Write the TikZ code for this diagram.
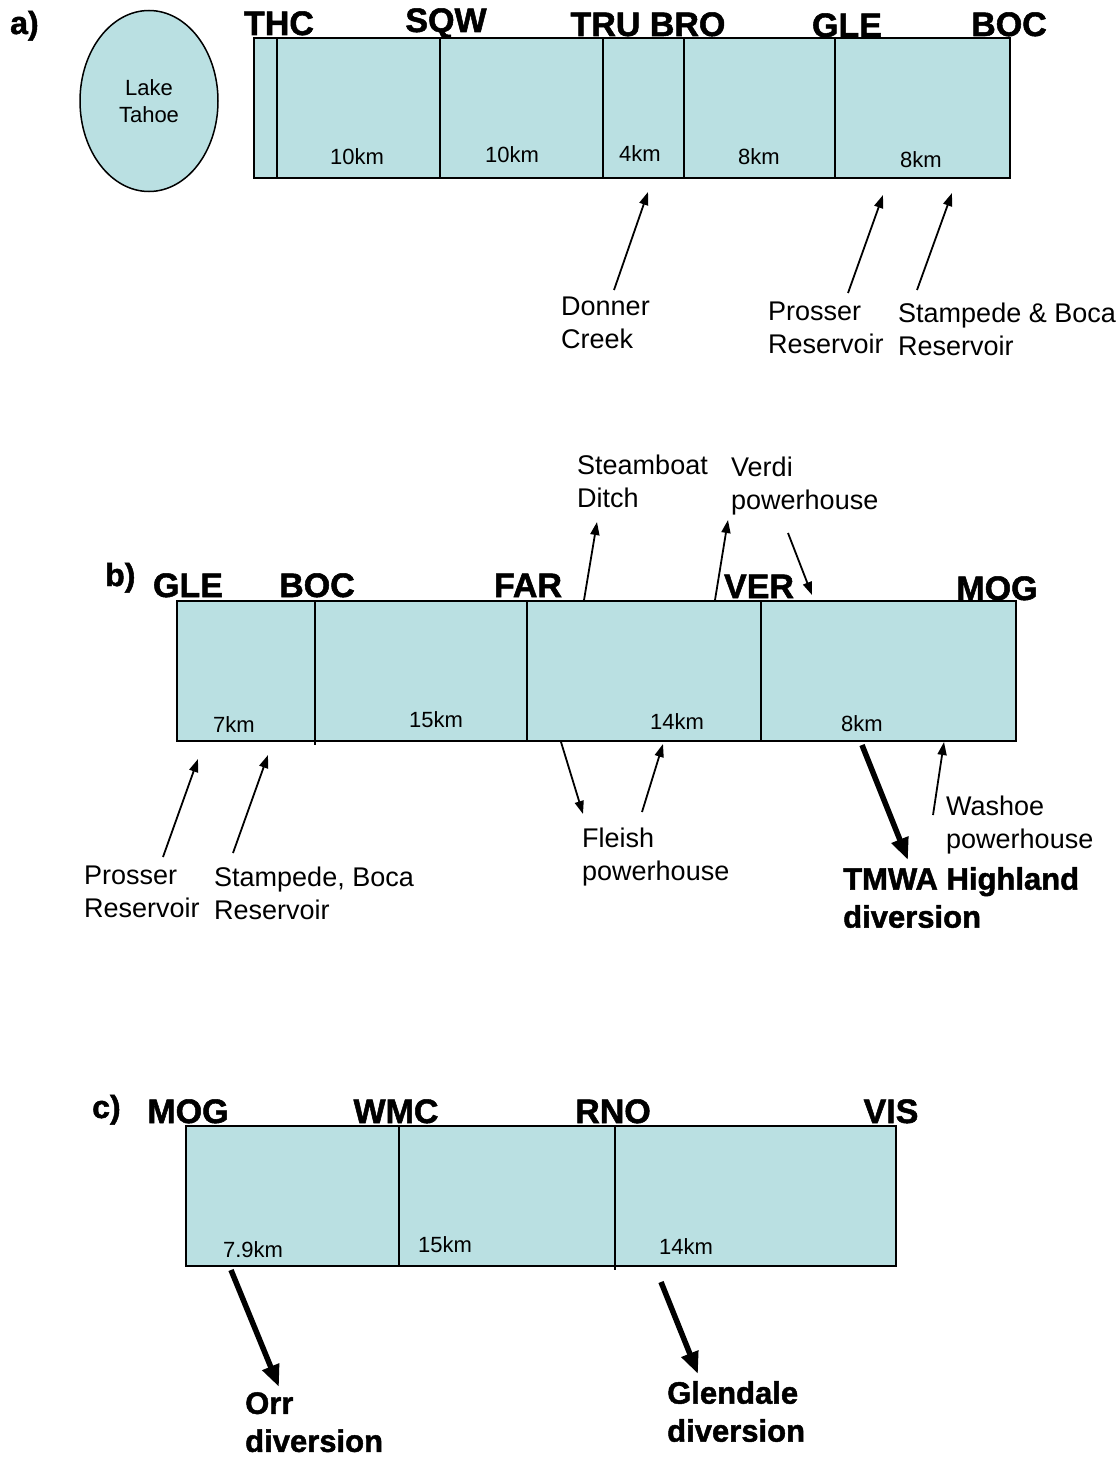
\documentclass[tikz,border=0pt]{standalone}
\usepackage{fontspec}
\setmainfont{Liberation Sans}
\newfontfamily\heavyfont{Liberation Sans}[BoldFeatures={FakeBold=1.5}]
\usetikzlibrary{arrows.meta,shapes.geometric}
\definecolor{rfill}{RGB}{186,224,226}
\begin{document}
\begin{tikzpicture}[x=1pt,y=-1pt,
  reach/.style={fill=rfill, draw=black, line width=2pt},
  divider/.style={draw=black, line width=1.3pt},
  stn/.style={font=\heavyfont\fontsize{34}{38}\selectfont\bfseries, anchor=base, inner sep=0},
  panel/.style={font=\heavyfont\fontsize{32}{38}\selectfont\bfseries, anchor=base west, inner sep=0},
  km/.style={font=\fontsize{22}{26}\selectfont, inner sep=0},
  note/.style={font=\fontsize{27}{32.5}\selectfont, align=left, anchor=north west, inner sep=0},
  bnote/.style={font=\heavyfont\fontsize{31}{38}\selectfont\bfseries, align=left, anchor=north west, inner sep=0},
  flow/.style={-{Triangle[length=13pt,width=9pt]}, line width=1.8pt},
  bigflow/.style={-{Triangle[length=22pt,width=17pt]}, line width=5.5pt},
  lake/.style={ellipse, fill=rfill, draw=black, line width=1.5pt, minimum width=138pt, minimum height=181pt, inner sep=0, align=center, font=\fontsize{22}{27}\selectfont}
]
\useasboundingbox (0,0) rectangle (1118,1458);
\fill[white] (0,0) rectangle (1118,1458);

% ---------------- panel a ----------------
\node[panel] (pa) at (10,34) {a)};
\node[lake] (tahoe) at (149,101) {Lake\\Tahoe};
\draw[reach] (254,38) rectangle (1010,178);
\foreach \xx in {277,440,603,684,835} \draw[divider] (\xx,38) -- (\xx,178);
\node[stn] (thc) at (279,35) {THC};
\node[stn] (sqw) at (446,32) {SQW};
\node[stn] (trubro) at (648,36) {TRU BRO};
\node[stn] (glea) at (847,37) {GLE};
\node[stn] (boca) at (1009,36) {BOC};
\node[km] (ka1) at (357,157) {10km};
\node[km] (ka2) at (512,155) {10km};
\node[km] (ka3) at (640,154) {4km};
\node[km] (ka4) at (759,157) {8km};
\node[km] (ka5) at (921,160) {8km};
\node[note] (donner) at (561,297) {Donner\\Creek};
\node[note] (prossera) at (768,302) {Prosser\\Reservoir};
\node[note] (stampa) at (898,303) {Stampede \& Boca\\Reservoir};
\coordinate (dnS) at (614,290); \coordinate (dnE) at (648,192);
\coordinate (prS) at (848,293); \coordinate (prE) at (883,195);
\coordinate (stS) at (917,290); \coordinate (stE) at (952,193);
\draw[flow] (dnS) -- (dnE);
\draw[flow] (prS) -- (prE);
\draw[flow] (stS) -- (stE);

% ---------------- panel b ----------------
\node[panel] (pb) at (105,586) {b)};
\draw[reach] (177,601) rectangle (1016,741);
\draw[divider] (315,601) -- (315,745);
\draw[divider] (527,601) -- (527,741);
\draw[divider] (761,601) -- (761,741);
\node[stn] (gleb) at (188,597) {GLE};
\node[stn] (bocb) at (317,597) {BOC};
\node[stn] (far) at (528,597) {FAR};
\node[stn] (ver) at (759,598) {VER};
\node[stn] (mogb) at (997,600) {MOG};
\node[km] (kb1) at (234,725) {7km};
\node[km] (kb2) at (436,720) {15km};
\node[km] (kb3) at (677,722) {14km};
\node[km] (kb4) at (862,724) {8km};
\node[note] (steam) at (577,455) {Steamboat\\Ditch};
\node[note] (verdi) at (731,457) {Verdi\\powerhouse};
\node[note] (prosserb) at (84,866) {Prosser\\Reservoir};
\node[note] (stampb) at (214,867) {Stampede, Boca\\Reservoir};
\node[note] (fleish) at (582,828) {Fleish\\powerhouse};
\node[note] (washoe) at (946,796) {Washoe\\powerhouse};
\node[bnote] (tmwa) at (843,867) {TMWA Highland\\diversion};
\coordinate (sdS) at (584,600); \coordinate (sdE) at (597,522);
\coordinate (vuS) at (715,600); \coordinate (vuE) at (728,520);
\coordinate (vdS) at (788,533); \coordinate (vdE) at (812,595);
\coordinate (pbS) at (163,857); \coordinate (pbE) at (198,759);
\coordinate (sbS) at (233,853); \coordinate (sbE) at (268,755);
\coordinate (fdS) at (561,742); \coordinate (fdE) at (583,814);
\coordinate (fuS) at (642,812); \coordinate (fuE) at (663,744);
\coordinate (wuS) at (933,815); \coordinate (wuE) at (944,742);
\coordinate (tmS) at (862,745); \coordinate (tmE) at (908,860);
\draw[flow] (sdS) -- (sdE);
\draw[flow] (vuS) -- (vuE);
\draw[flow] (vdS) -- (vdE);
\draw[flow] (pbS) -- (pbE);
\draw[flow] (sbS) -- (sbE);
\draw[flow] (fdS) -- (fdE);
\draw[flow] (fuS) -- (fuE);
\draw[flow] (wuS) -- (wuE);
\draw[bigflow] (tmS) -- (tmE);

% ---------------- panel c ----------------
\node[panel] (pc) at (92,1118) {c)};
\draw[reach] (186,1126) rectangle (896,1266);
\draw[divider] (399,1126) -- (399,1266);
\draw[divider] (615,1126) -- (615,1270);
\node[stn] (mogc) at (188,1123) {MOG};
\node[stn] (wmc) at (396,1123) {WMC};
\node[stn] (rno) at (613,1123) {RNO};
\node[stn] (vis) at (891,1123) {VIS};
\node[km] (kc1) at (253,1250) {7.9km};
\node[km] (kc2) at (445,1245) {15km};
\node[km] (kc3) at (686,1247) {14km};
\node[bnote] (orr) at (245,1392) {Orr\\diversion};
\node[bnote] (glendale) at (667,1381) {Glendale\\diversion};
\coordinate (orS) at (231,1270); \coordinate (orE) at (279,1387);
\coordinate (glS) at (661,1282); \coordinate (glE) at (698,1374);
\draw[bigflow] (orS) -- (orE);
\draw[bigflow] (glS) -- (glE);
\end{tikzpicture}
\end{document}
